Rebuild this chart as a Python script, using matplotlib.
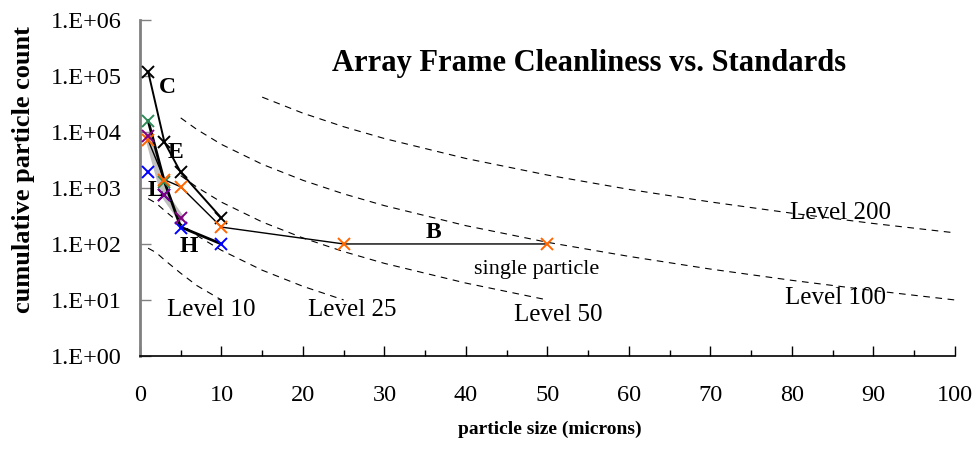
import matplotlib
matplotlib.use('Agg')
import matplotlib.pyplot as plt
from matplotlib.ticker import FixedLocator, MultipleLocator

plt.rcParams['font.family'] = ['Liberation Serif', 'DejaVu Serif']

# cleanliness level curves
LEVEL_10_X = [1, 2, 3, 5, 7, 10]
LEVEL_10_Y = [84, 70, 52, 30, 18, 10]
LEVEL_25_X = [1, 2, 3, 5, 7, 10, 15, 20, 25]
LEVEL_25_Y = [645, 532, 397, 228, 141, 77, 34, 17.5, 10]
LEVEL_50_X = [5, 7, 10, 15, 20, 25, 30, 40, 50]
LEVEL_50_Y = [1660, 1030, 558, 247, 128, 73, 45, 20, 10]
LEVEL_100_X = [5, 7, 10, 15, 20, 25, 30, 40, 50, 60, 70, 80, 90, 100]
LEVEL_100_Y = [17850, 11040, 6000, 2650, 1370, 784, 483, 212, 107, 60, 35.6, 22.4, 14.7, 10]
LEVEL_200_X = [15, 20, 25, 30, 40, 50, 60, 70, 80, 90, 100]
LEVEL_200_Y = [41900, 21650, 12400, 7630, 3360, 1700, 944, 563, 354, 232, 158]

# measured samples
C_X = [1, 3, 5, 10]
C_Y = [120000, 6600, 1900, 290]
E_X = [1, 3, 5, 10]
E_Y = [16000, 1300, 200, 100]
H_X = [1, 3, 5, 10]
H_Y = [1900, 750, 195, 100]
L_X = [1, 3, 5]
L_Y = [8500, 750, 290]
B_X = [1, 3, 5, 10, 25, 50]
B_Y = [7200, 1400, 1050, 200, 100, 100]

Y_TICKS = [1, 10, 100, 1000, 10000, 100000, 1000000]
Y_TICK_LABELS = ['1.E+00', '1.E+01', '1.E+02', '1.E+03', '1.E+04', '1.E+05', '1.E+06']

fig = plt.figure(figsize=(9.76, 4.5), dpi=100)
ax = fig.add_axes([0.1434, 0.209, 0.835, 0.7466])

dash = dict(color='black', lw=0.8, ls=(0, (6, 5)))
ax.plot(LEVEL_10_X, LEVEL_10_Y, **dash)
ax.plot(LEVEL_25_X, LEVEL_25_Y, **dash)
ax.plot(LEVEL_50_X, LEVEL_50_Y, **dash)
ax.plot(LEVEL_100_X, LEVEL_100_Y, **dash)
ax.plot(LEVEL_200_X, LEVEL_200_Y, **dash)

ax.plot(L_X, L_Y, color='#c0c0c0', lw=5, solid_capstyle='round', zorder=2)
ax.plot(B_X, B_Y, color='black', lw=1.0, zorder=3)
ax.plot(E_X, E_Y, color='black', lw=2.0, zorder=3)
ax.plot(C_X, C_Y, color='black', lw=1.4, zorder=3)

mk = dict(marker='x', ls='none', ms=8, mew=1.4, zorder=5)
ax.plot(C_X, C_Y, color='black', **mk)
ax.plot(E_X[:2], E_Y[:2], color='#2e8b57', **mk)
ax.plot(H_X, H_Y, color='#0000ff', **mk)
ax.plot(B_X, B_Y, color='#ff6600', **mk)
ax.plot(L_X, L_Y, color='#800080', **mk)

ax.set_yscale('log')
ax.set_xlim(0, 100)
ax.set_ylim(1, 1e6)
ax.yaxis.set_major_locator(FixedLocator(Y_TICKS))
ax.yaxis.set_minor_locator(FixedLocator([]))
ax.set_yticklabels(Y_TICK_LABELS)
ax.xaxis.set_major_locator(MultipleLocator(10))
ax.xaxis.set_minor_locator(MultipleLocator(5))

ax.tick_params(axis='y', which='major', direction='in', length=8, width=1, pad=13,
               labelsize=17.5, color='#808080')
ax.tick_params(axis='x', which='major', direction='in', length=7, width=1, pad=21,
               labelsize=17.5)
ax.tick_params(axis='x', which='minor', direction='in', length=4, width=1)

for side in ['top', 'right']:
    ax.spines[side].set_visible(False)
ax.spines['left'].set_color('#808080')
ax.spines['left'].set_linewidth(2)
ax.spines['bottom'].set_linewidth(1.2)

fig.text(550 / 976, 1 - 429 / 450, 'particle size (microns)', ha='center', va='center',
         fontsize=14, fontweight='bold')
fig.text(24 / 976, 1 - 170 / 450, 'cumulative particle count', ha='center', va='center',
         rotation=90, fontsize=19, fontweight='bold')

ax.text(55.1, 10 ** 5.22, 'Array Frame Cleanliness vs. Standards', ha='center', va='center',
        fontsize=22, fontweight='bold')

bold = dict(fontsize=17, fontweight='bold', ha='center', va='center')
ax.text(3.4, 10 ** 4.79, 'C', **bold)
ax.text(4.4, 10 ** 3.63, 'E', **bold)
ax.text(1.9, 10 ** 2.96, 'L', **bold)
ax.text(6.0, 10 ** 1.95, 'H', **bold)
ax.text(36.0, 10 ** 2.2, 'B', **bold)

plain = dict(fontsize=18, ha='center', va='center')
ax.text(48.7, 10 ** 1.54, 'single particle', fontsize=16, ha='center', va='center')
ax.text(8.8, 10 ** 0.82, 'Level 10', **plain)
ax.text(26.1, 10 ** 0.82, 'Level 25', **plain)
ax.text(51.3, 10 ** 0.73, 'Level 50', **plain)
ax.text(85.3, 10 ** 1.04, 'Level 100', **plain)
ax.text(85.9, 10 ** 2.55, 'Level 200', **plain)

fig.savefig('out.png', dpi=100)
